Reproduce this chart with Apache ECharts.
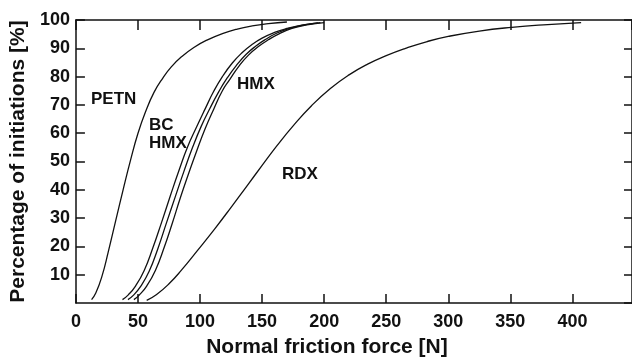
<!DOCTYPE html>
<html>
<head>
<meta charset="utf-8">
<script src="https://cdn.jsdelivr.net/npm/echarts@6/dist/echarts.min.js"></script>
<style>html,body{margin:0;padding:0;background:#fff;}#c{width:632px;height:363px;}</style>
</head>
<body>
<div id="c"></div>
<script>
// Data: [Normal friction force N, % initiations]
var petn = [[12.6,1.2],[16,3.5],[21,9.5],[26,18],[32,29],[38,40],[44,50.5],[50,60],[56,67.5],[63,74.5],[70,79.5],[77,83.5],[85,87],[95,90.3],[106,93],[118,95.2],[130,96.8],[142,97.9],[155,98.7],[170,99.3]];
var bcHmxA = [[37.5,1.2],[42,2.8],[48,6],[55,11.5],[62,19.5],[69,28.5],[76,37.8],[83,46.8],[90,55.2],[97,62],[104,68.5],[111,74.8],[118,80],[126,84.8],[134,88.5],[142,91.4],[150,93.6],[160,95.6],[170,97],[182,98.2],[195,99]];
var bcHmxB = [[41.9,1.2],[46,2.6],[52,5.8],[59,11.2],[66,19.2],[73,28.4],[80,37.5],[87,46.5],[94,55],[101,62.5],[108,68.8],[115,74.6],[122,79.6],[129,83.8],[137,87.8],[145,90.8],[153,93.2],[162,95.4],[172,97],[184,98.3],[197,99.1]];
var hmx = [[46.7,1.2],[51,2.8],[57,6],[64,11.5],[71,19.5],[77.5,28],[84,37],[91,46],[97.5,54],[104,61.5],[111,68.5],[118,75],[124,79],[131.5,83.8],[139,87.6],[147,90.6],[155,93],[164,95.2],[174,97],[186,98.3],[200,99.1]];
var rdx = [[57,0.9],[65,3],[75,6.8],[85,11.6],[98,18.6],[112,26.3],[125,33.8],[138,41.5],[150,48.6],[162,55.6],[175,62.6],[190,69.8],[205,75.8],[220,80.6],[235,84.4],[250,87.4],[265,89.9],[283,92.4],[300,94.2],[325,96.1],[351,97.4],[380,98.4],[407,99.1]];
var xTitle = 'Normal friction force [N]';
var yTitle = 'Percentage of initiations [%]';

var FONT = '"Liberation Sans", Arial, Helvetica, sans-serif';
var chart = echarts.init(document.getElementById('c'));
function line(name, data) {
  return {name: name, type: 'line', data: data, smooth: 0.5, showSymbol: false, symbol: 'none',
    lineStyle: {color: '#111', width: 1.3}, z: 3, animation: false};
}
var axisLineStyle = {color: '#111', width: 1.5};
var tickStyle = {color: '#111', width: 1.5};
chart.setOption({
  backgroundColor: '#fff',
  animation: false,
  grid: {left: 73, top: 20, right: -3, bottom: 55, containLabel: false},
  xAxis: [
    {type: 'value', position: 'bottom', min: 0, max: 448, interval: 50,
     axisLine: {show: true, lineStyle: axisLineStyle},
     axisTick: {show: true, inside: true, length: 9, lineStyle: tickStyle},
     axisLabel: {show: true, showMaxLabel: false, margin: 10, color: '#111', fontSize: 18, fontWeight: 'bold', fontFamily: FONT},
     splitLine: {show: false},
     name: xTitle, nameLocation: 'middle', nameGap: 34,
     nameTextStyle: {color: '#111', fontSize: 21, fontWeight: 'bold', fontFamily: FONT, padding: [0, 54, 0, 0]}},
    {type: 'value', position: 'top', min: 0, max: 448, interval: 50,
     axisLine: {show: true, onZero: false, lineStyle: axisLineStyle},
     axisTick: {show: true, inside: true, length: 10, lineStyle: tickStyle},
     axisLabel: {show: false}, splitLine: {show: false}}
  ],
  yAxis: [
    {type: 'value', position: 'left', min: 0, max: 100, interval: 10,
     axisLine: {show: true, onZero: false, lineStyle: axisLineStyle},
     axisTick: {show: true, inside: true, length: 9, lineStyle: tickStyle},
     axisLabel: {show: true, showMinLabel: false, margin: 6, color: '#111', fontSize: 18, fontWeight: 'bold', fontFamily: FONT},
     splitLine: {show: false},
     name: yTitle, nameLocation: 'middle', nameGap: 44,
     nameTextStyle: {color: '#111', fontSize: 21, fontWeight: 'bold', fontFamily: FONT}},
    {type: 'value', position: 'right', min: 0, max: 100, interval: 10,
     axisLine: {show: true, onZero: false, lineStyle: axisLineStyle},
     axisTick: {show: true, inside: true, length: 8, lineStyle: tickStyle},
     axisLabel: {show: false}, splitLine: {show: false}}
  ],
  series: [line('PETN', petn), line('BC HMX', bcHmxA), line('BC HMX (2)', bcHmxB), line('HMX', hmx), line('RDX', rdx)],
  graphic: [
    {type: 'text', left: 91, top: 91, style: {text: 'PETN', fill: '#111', font: 'bold 17px ' + FONT}},
    {type: 'text', left: 149, top: 117, style: {text: 'BC', fill: '#111', font: 'bold 17px ' + FONT}},
    {type: 'text', left: 149, top: 135, style: {text: 'HMX', fill: '#111', font: 'bold 17px ' + FONT}},
    {type: 'text', left: 237, top: 76, style: {text: 'HMX', fill: '#111', font: 'bold 17px ' + FONT}},
    {type: 'text', left: 282, top: 166, style: {text: 'RDX', fill: '#111', font: 'bold 17px ' + FONT}}
  ]
});
</script>
</body>
</html>
